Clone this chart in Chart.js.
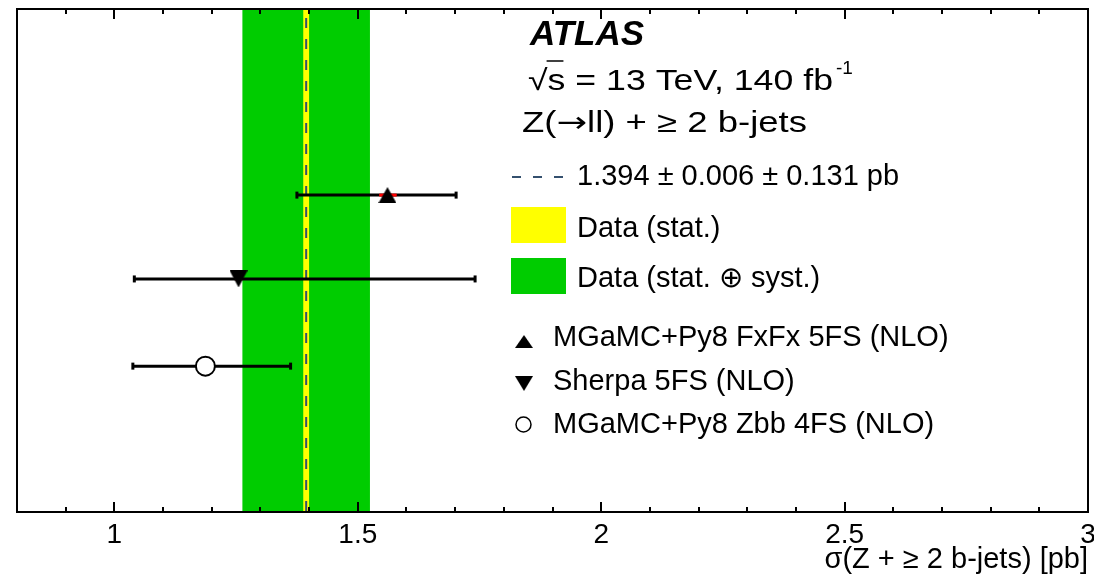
<!DOCTYPE html>
<html>
<head>
<meta charset="utf-8">
<script src="https://cdn.jsdelivr.net/npm/chart.js@4.4.1/dist/chart.umd.min.js"></script>
<style>
  html, body { margin: 0; padding: 0; background: #fff; }
  #wrap { width: 1094px; height: 581px; }
</style>
</head>
<body>
<div id="wrap"><canvas id="c" width="1094" height="581"></canvas></div>
<script>
// Medida: sigma(Z + >=2 b-jets) en pb
const dataValue = 1.394;
const dataStat = 0.006;
const dataTotal = 0.131;

// Predicciones (valor, barra total, barra estadística) y fila donde se dibujan
const predNames = ['MGaMC+Py8 FxFx 5FS (NLO)', 'Sherpa 5FS (NLO)', 'MGaMC+Py8 Zbb 4FS (NLO)'];
const predValues = [1.561, 1.255, 1.187];
const predLow = [1.375, 1.041, 1.038];
const predHigh = [1.702, 1.741, 1.362];
const predStatLow = [1.544, 1.248, 1.180];
const predStatHigh = [1.580, 1.262, 1.194];
const predRows = [2.22, 3.22, 4.26];

const xTicks = [1, 1.5, 2, 2.5, 3];
const xMin = 0.8, xMax = 3.0, xMinor = 0.1;
const rowMin = 0, rowMax = 6;

const FONT = '"Liberation Sans", Arial, Helvetica, sans-serif';
const GREEN = '#00cc00';
const YELLOW = '#ffff00';
const DASH = '#34506e';

// marcadores estilo ROOT: triángulo centrado en su caja
function tri(w, h, up) {
  const c = document.createElement('canvas');
  c.width = w; c.height = h;
  const g = c.getContext('2d');
  g.fillStyle = '#000';
  g.beginPath();
  if (up) { g.moveTo(0, h); g.lineTo(w, h); g.lineTo(w / 2, 0); }
  else { g.moveTo(0, 0); g.lineTo(w, 0); g.lineTo(w / 2, h); }
  g.closePath(); g.fill();
  return c;
}
const upMark = tri(18, 16, true);
const downMark = tri(18, 17, false);
const markStyles = [
  { pointStyle: upMark },
  { pointStyle: downMark },
  { pointStyle: 'circle', pointRadius: 9.5, pointBackgroundColor: '#fff', pointBorderColor: '#000', pointBorderWidth: 2 },
];

const line = (lo, hi, y) => [{ x: lo, y }, { x: hi, y }];

const datasets = [
  ...predValues.map((v, i) => ({
    data: [{ x: v, y: predRows[i] }],
    ...markStyles[i],
    order: 0,
  })),
  ...predValues.map((v, i) => ({
    data: line(predStatLow[i], predStatHigh[i], predRows[i]),
    showLine: true, borderColor: '#ff0000', borderWidth: 3, pointRadius: 0, order: 1,
  })),
  ...predValues.map((v, i) => ({
    data: line(predLow[i], predHigh[i], predRows[i]),
    showLine: true, borderColor: '#000', borderWidth: 3,
    pointStyle: 'line', pointRadius: 3.5, pointRotation: 90, pointBorderWidth: 3, pointBorderColor: '#000',
    order: 2,
  })),
  {
    // valor central medido
    data: [{ x: dataValue, y: rowMin }, { x: dataValue, y: rowMax }],
    showLine: true, borderColor: DASH, borderWidth: 2, borderDash: [10, 11], borderDashOffset: 12,
    pointRadius: 0, order: 3,
  },
];

// texto en trozos (fuente, texto) estirado en horizontal hasta ocupar [x0, x1]
function stretched(ctx, parts, x0, x1, y) {
  const widths = parts.map(([f, t]) => { ctx.font = f; return ctx.measureText(t).width; });
  const sx = (x1 - x0) / widths.reduce((a, b) => a + b, 0);
  ctx.save();
  ctx.translate(x0, y);
  ctx.scale(sx, 1);
  let cx = 0;
  const pos = [];
  parts.forEach(([f, t], i) => { ctx.font = f; ctx.fillText(t, cx, 0); pos.push(x0 + cx * sx); cx += widths[i]; });
  ctx.restore();
  return { pos, sx, widths };
}

const atlasDeco = {
  id: 'atlasDeco',
  beforeDatasetsDraw(chart) {
    const { ctx, chartArea: a, scales: { x } } = chart;
    const band = (lo, hi, color) => {
      const x0 = x.getPixelForValue(lo), x1 = x.getPixelForValue(hi);
      ctx.fillStyle = color;
      ctx.fillRect(x0, a.top, x1 - x0, a.bottom - a.top);
    };
    ctx.save();
    band(dataValue - dataTotal, dataValue + dataTotal, GREEN);
    band(dataValue - dataStat, dataValue + dataStat, YELLOW);
    ctx.restore();
  },
  afterDraw(chart) {
    const { ctx, chartArea: a, scales: { x } } = chart;
    ctx.save();
    // marco y ticks hacia dentro (abajo y arriba)
    ctx.strokeStyle = '#000';
    ctx.lineWidth = 2;
    ctx.strokeRect(a.left, a.top, a.right - a.left, a.bottom - a.top);
    const n = Math.round((xMax - xMin) / xMinor);
    ctx.beginPath();
    for (let k = 1; k < n; k++) {
      const v = xMin + k * xMinor;
      const major = Math.abs(v * 2 - Math.round(v * 2)) < 1e-6;
      const len = major ? 10 : 5;
      const px = Math.round(x.getPixelForValue(v));
      ctx.moveTo(px, a.bottom); ctx.lineTo(px, a.bottom - len);
      ctx.moveTo(px, a.top); ctx.lineTo(px, a.top + len);
    }
    ctx.stroke();

    // etiquetas del eje y título
    ctx.fillStyle = '#000';
    ctx.textBaseline = 'alphabetic';
    ctx.textAlign = 'center';
    ctx.font = `28px ${FONT}`;
    xTicks.forEach((v) => ctx.fillText(String(v), x.getPixelForValue(v), 543));
    ctx.textAlign = 'right';
    ctx.font = `29px ${FONT}`;
    ctx.fillText('\u03c3(Z + \u2265 2 b-jets) [pb]', a.right, 568);
    ctx.textAlign = 'left';

    // cabecera
    ctx.font = `italic bold 35px ${FONT}`;
    ctx.fillText('ATLAS', 530, 45);

    const f29 = `29px ${FONT}`;
    const l2 = stretched(ctx, [[f29, '\u221a'], [f29, 's'], [f29, ' = 13 TeV, 140 fb']], 528, 833, 90);
    ctx.lineWidth = 1.5;
    ctx.beginPath();
    ctx.moveTo(l2.pos[1] - 1, 61); ctx.lineTo(l2.pos[2] - 2, 61); ctx.stroke();
    ctx.font = `19px ${FONT}`;
    ctx.fillText('-1', 836, 74);

    stretched(ctx, [[f29, 'Z('], [`29px "DejaVu Sans", sans-serif`, '\u2192'], [f29, 'll) + \u2265 2 b-jets']], 522, 807, 132);

    // leyenda de la medida
    ctx.font = f29;
    ctx.strokeStyle = DASH;
    ctx.lineWidth = 2;
    ctx.setLineDash([9, 12]);
    ctx.beginPath(); ctx.moveTo(512, 177); ctx.lineTo(563, 177); ctx.stroke();
    ctx.setLineDash([]);
    ctx.fillText('1.394 \u00b1 0.006 \u00b1 0.131 pb', 577, 185);
    ctx.fillStyle = YELLOW; ctx.fillRect(511, 207, 55, 36);
    ctx.fillStyle = GREEN; ctx.fillRect(511, 258, 55, 36);
    ctx.fillStyle = '#000';
    ctx.fillText('Data (stat.)', 577, 237);
    ctx.fillText('Data (stat. \u2295 syst.)', 577, 287);

    // leyenda de predicciones
    ctx.drawImage(upMark, 515, 335, 18, 13);
    ctx.drawImage(downMark, 515, 376, 18, 15);
    ctx.beginPath(); ctx.arc(523.5, 424.5, 7.5, 0, Math.PI * 2);
    ctx.fillStyle = '#fff'; ctx.fill();
    ctx.strokeStyle = '#000'; ctx.lineWidth = 1.5; ctx.stroke();
    ctx.fillStyle = '#000';
    const legY = [346, 390, 433];
    predNames.forEach((t, i) => ctx.fillText(t, 553, legY[i]));
    ctx.restore();
  },
};

new Chart(document.getElementById('c'), {
  type: 'scatter',
  data: { datasets },
  options: {
    responsive: false,
    animation: false,
    devicePixelRatio: 1,
    layout: { autoPadding: false, padding: { left: 17, right: 6, top: 9, bottom: 69 } },
    plugins: { legend: { display: false }, tooltip: { enabled: false } },
    scales: {
      x: { type: 'linear', min: xMin, max: xMax, display: false },
      y: { type: 'linear', min: rowMin, max: rowMax, reverse: true, display: false },
    },
  },
  plugins: [atlasDeco],
});
</script>
</body>
</html>
